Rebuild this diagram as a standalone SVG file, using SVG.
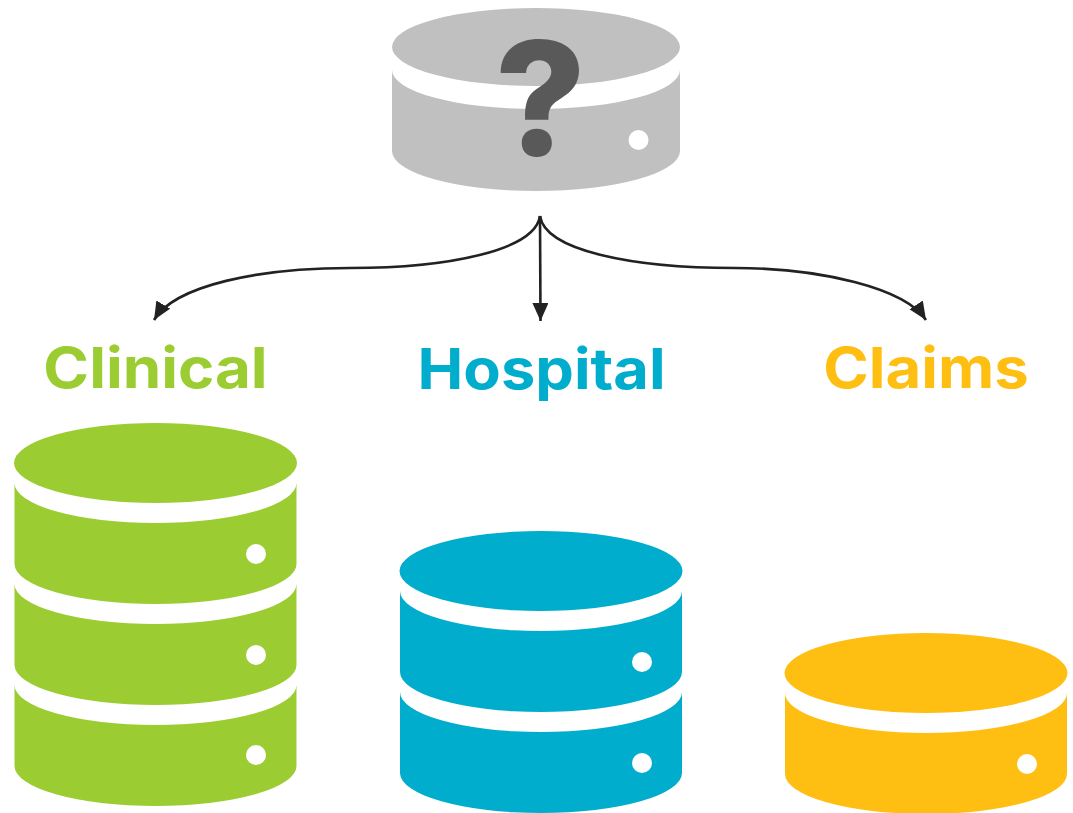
<svg xmlns="http://www.w3.org/2000/svg" width="1073" height="813" viewBox="0 0 1073 813">
<style>
.lbl{font-family:"Inter","Liberation Sans",sans-serif;font-weight:700;font-size:56px;text-anchor:middle}
.dot{fill:#fff}
.green{fill:#9bcd32}.blue{fill:#00adcd}.yellow{fill:#ffbe12}.grey{fill:#c0c0c0}
.conn{fill:none;stroke:#222;stroke-width:2.6}
</style>
<defs>
<marker id="ah" markerUnits="userSpaceOnUse" markerWidth="19" markerHeight="18" refX="18" refY="8" orient="auto"><path d="M0,0L18,8L0,16Z" fill="#222"/></marker>
<filter id="soft" x="-5%" y="-5%" width="110%" height="110%"><feGaussianBlur stdDeviation="0.6"/></filter>
<path id="seg" d="M-141,0A141,40 0 0 0 141,0V81A141,40 0 0 1 -141,81Z"/>
</defs>
<g id="unknown-db">
<g filter="url(#soft)" class="grey">
<ellipse cx="536" cy="47" rx="144" ry="39"/>
<path d="M392,70A144,39 0 0 0 680,70V151A144,40 0 0 1 392,151Z"/>
<circle class="dot" cx="638.500" cy="140" r="10"/>
</g>
<text x="540.500" y="155" font-family="Inter,'Liberation Sans',sans-serif" font-weight="800" font-size="158" text-anchor="middle" fill="#595959">?</text>
</g>
<g id="connectors">
<path class="conn" d="M540,216C535,250 450,268 350,268C260,268 175,285 154,320" marker-end="url(#ah)"/>
<path class="conn" d="M540,216L540.500,321" marker-end="url(#ah)"/>
<path class="conn" d="M540,216C545,250 630,268 735,268C820,268 905,288 926,320" marker-end="url(#ah)"/>
</g>
<g id="clinical">
<text class="lbl" transform="translate(155.500,388) scale(1.105,1)" fill="#9bcd32">Clinical</text>
<ellipse class="green" cx="155.500" cy="463" rx="141.500" ry="40"/>
<use href="#seg" class="green" transform="translate(155.500,483)"/>
<use href="#seg" class="green" transform="translate(155.500,584)"/>
<use href="#seg" class="green" transform="translate(155.500,685)"/>
<circle class="dot" cx="256" cy="554" r="10"/><circle class="dot" cx="256" cy="655" r="10"/><circle class="dot" cx="256" cy="755" r="10"/>
</g>
<g id="hospital">
<text class="lbl" transform="translate(541.500,389) scale(1.095,1)" fill="#00adcd">Hospital</text>
<ellipse class="blue" cx="541" cy="571" rx="141.500" ry="40"/>
<use href="#seg" class="blue" transform="translate(541,591)"/>
<use href="#seg" class="blue" transform="translate(541,692)"/>
<circle class="dot" cx="642" cy="662" r="10"/><circle class="dot" cx="642" cy="763" r="10"/>
</g>
<g id="claims">
<text class="lbl" transform="translate(926,388) scale(1.1,1)" fill="#ffbe12">Claims</text>
<ellipse class="yellow" cx="926" cy="673" rx="141.500" ry="40"/>
<use href="#seg" class="yellow" transform="translate(926,693)"/>
<circle class="dot" cx="1027" cy="764" r="10"/>
</g>
</svg>
